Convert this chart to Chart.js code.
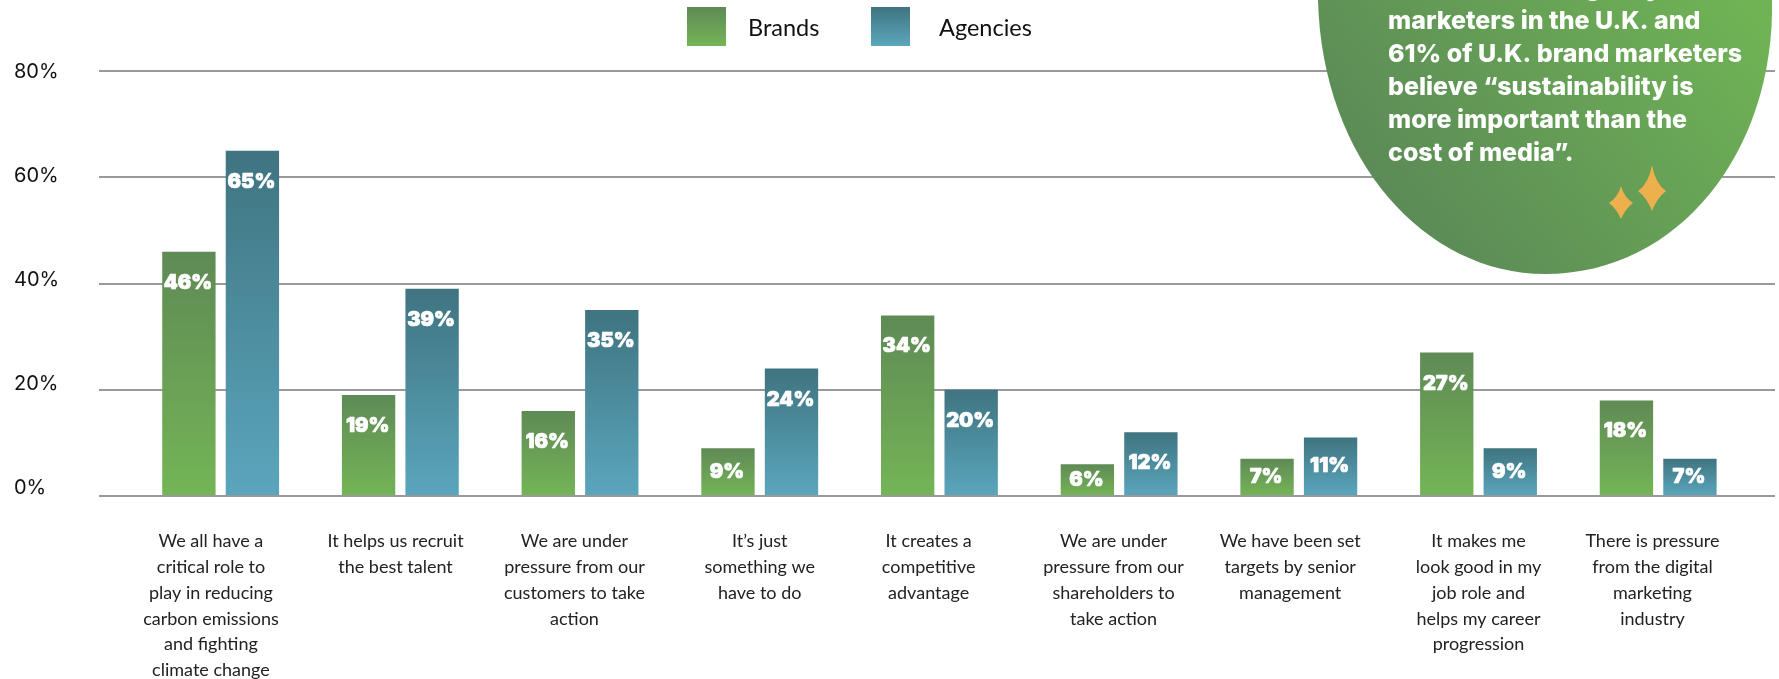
<!DOCTYPE html>
<html>
<head>
<meta charset="utf-8">
<script src="https://cdn.jsdelivr.net/npm/chart.js@4/dist/chart.umd.min.js"></script>
<style>html,body{margin:0;padding:0;background:#fff}canvas{display:block}</style>
</head>
<body>
<canvas id="chart" width="1779" height="679"></canvas>
<script>
const categories = [
  ["We all have a","critical role to","play in reducing","carbon emissions","and fighting","climate change"],
  ["It helps us recruit","the best talent"],
  ["We are under","pressure from our","customers to take","action"],
  ["It’s just","something we","have to do"],
  ["It creates a","competitive","advantage"],
  ["We are under","pressure from our","shareholders to","take action"],
  ["We have been set","targets by senior","management"],
  ["It makes me","look good in my","job role and","helps my career","progression"],
  ["There is pressure","from the digital","marketing","industry"]
];
const brands = [46, 19, 16, 9, 34, 6, 7, 27, 18];
const agencies = [65, 39, 35, 24, 20, 12, 11, 9, 7];
const seriesNames = ["Brands", "Agencies"];
const yTicks = [0, 20, 40, 60, 80];
const calloutLines = ["marketers in the U.K. and","61% of U.K. brand marketers","believe “sustainability is","more important than the","cost of media”."];
const calloutCutOff = "agency";

const GREEN = ["#5f8a55", "#74b556"];
const TEAL = ["#3f7480", "#5ba6bd"];

// Category captions sit slightly left of their bar pairs, in x-axis units.
const captionShift = [-0.054, -0.027, -0.031, 0, -0.06, -0.031, -0.048, 0, -0.032];
// The percent labels on the left drift upward from their rules toward the baseline, in y-axis units.
const yLabelShift = [1.56, 1.08, 0.66, 0.3, -0.13];

function barGradient(stops) {
  return function (c) {
    if (c.type !== "data" || !c.parsed) return stops[1];
    const { chart } = c;
    const y = chart.scales.y;
    const top = y.getPixelForValue(c.parsed.y);
    const bottom = y.getPixelForValue(0);
    if (!isFinite(top) || !isFinite(bottom)) return stops[1];
    const g = chart.ctx.createLinearGradient(0, top, 0, bottom);
    g.addColorStop(0, stops[0]);
    g.addColorStop(1, stops[1]);
    return g;
  };
}

// White percentage printed inside each bar, centred when the bar is short.
const valueLabels = {
  id: "valueLabels",
  afterDatasetsDraw(chart) {
    const ctx = chart.ctx;
    ctx.save();
    ctx.fillStyle = "#fff";
    ctx.strokeStyle = "#fff";
    ctx.lineWidth = 0.7;
    ctx.lineJoin = "round";
    ctx.textAlign = "center";
    ctx.textBaseline = "middle";
    ctx.font = "900 20px Inter, sans-serif";
    chart.data.datasets.forEach((ds, d) => {
      chart.getDatasetMeta(d).data.forEach((bar, i) => {
        const h = bar.base - bar.y;
        const text = ds.data[i].y + "%";
        const y = bar.y + Math.min(31, h / 2);
        ctx.fillText(text, bar.x - 1, y);
        ctx.strokeText(text, bar.x - 1, y);
      });
    });
    ctx.restore();
  }
};

// Series key across the top, swatch plus name.
const seriesKey = {
  id: "seriesKey",
  afterDraw(chart) {
    const ctx = chart.ctx;
    const slots = [[687, 748], [871, 939]];
    const stops = [GREEN, TEAL];
    ctx.save();
    ctx.font = "23.5px Lato, sans-serif";
    ctx.textBaseline = "middle";
    ctx.textAlign = "left";
    seriesNames.forEach((name, i) => {
      const g = ctx.createLinearGradient(0, 7, 0, 46);
      g.addColorStop(0, stops[i][0]);
      g.addColorStop(1, stops[i][1]);
      ctx.fillStyle = g;
      ctx.fillRect(slots[i][0], 7, 39, 39);
      ctx.fillStyle = "#111";
      ctx.fillText(name, slots[i][1], 28);
    });
    ctx.restore();
  }
};

function sparkle(ctx, cx, cy, w, up, down) {
  ctx.beginPath();
  ctx.moveTo(cx, cy - up);
  ctx.quadraticCurveTo(cx + w * 0.25, cy - w * 0.5, cx + w, cy);
  ctx.quadraticCurveTo(cx + w * 0.35, cy + w * 0.5, cx, cy + down);
  ctx.quadraticCurveTo(cx - w * 0.35, cy + w * 0.5, cx - w, cy);
  ctx.quadraticCurveTo(cx - w * 0.25, cy - w * 0.5, cx, cy - up);
  ctx.closePath();
  ctx.fill();
}

// Green rounded callout hanging from the top right corner.
const callout = {
  id: "callout",
  afterDraw(chart) {
    const ctx = chart.ctx;
    ctx.save();
    const g = ctx.createLinearGradient(1400, 270, 1740, 0);
    g.addColorStop(0, "#5a8757");
    g.addColorStop(1, "#6fb355");
    ctx.fillStyle = g;
    ctx.beginPath();
    ctx.moveTo(1318, 0);
    ctx.bezierCurveTo(1322, 160, 1425, 274, 1545, 274);
    ctx.bezierCurveTo(1680, 274, 1775, 150, 1772, 0);
    ctx.closePath();
    ctx.fill();
    ctx.fillStyle = "#fff";
    ctx.font = "800 25px Inter, sans-serif";
    ctx.textAlign = "left";
    ctx.textBaseline = "alphabetic";
    ctx.fillText(calloutCutOff, 1570, -4);
    calloutLines.forEach((line, i) => ctx.fillText(line, 1388, 29 + i * 33));
    ctx.fillStyle = "#edb04d";
    sparkle(ctx, 1652, 191, 14, 26, 20);
    sparkle(ctx, 1621, 203, 12, 17, 16);
    ctx.restore();
  }
};

new Chart(document.getElementById("chart"), {
  type: "bar",
  data: {
    datasets: [
      { label: seriesNames[0], yAxisID: "y", data: brands.map((v, i) => ({ x: i, y: v })), backgroundColor: barGradient(GREEN) },
      { label: seriesNames[1], yAxisID: "y", data: agencies.map((v, i) => ({ x: i, y: v })), backgroundColor: barGradient(TEAL) }
    ]
  },
  options: {
    responsive: false,
    animation: false,
    categoryPercentage: 0.752,
    barPercentage: 0.84,
    layout: { padding: { top: 71, right: 4, left: 14, bottom: 0 } },
    plugins: { legend: { display: false }, tooltip: { enabled: false }, title: { display: false } },
    scales: {
      x: {
        type: "linear",
        offset: false,
        min: -0.677,
        max: 8.65,
        grid: { display: false },
        border: { display: false },
        afterBuildTicks(scale) { scale.ticks = categories.map((_, i) => ({ value: i + captionShift[i] })); },
        afterFit(scale) { scale.height = 183; },
        ticks: {
          autoSkip: false,
          maxRotation: 0,
          padding: 24.5,
          color: "#222",
          font: { family: "Lato, sans-serif", size: 18, lineHeight: "25.8px" },
          callback: (v, i) => categories[i]
        }
      },
      y: {
        min: 0,
        max: 80,
        position: "left",
        grid: { color: "#999", lineWidth: 2, drawTicks: false },
        border: { display: false },
        afterBuildTicks(scale) { scale.ticks = yTicks.map(v => ({ value: v })); },
        afterFit(scale) { scale.width = 0; },
        ticks: { display: false }
      },
      yLabels: {
        axis: "y",
        min: 0,
        max: 80,
        position: "left",
        grid: { display: false, drawTicks: false },
        border: { display: false },
        afterBuildTicks(scale) { scale.ticks = yTicks.map((v, i) => ({ value: v + yLabelShift[i] })); },
        afterFit(scale) { scale.width = 85; },
        ticks: {
          crossAlign: "far",
          padding: 0,
          color: "#111",
          font: { family: "Inter, sans-serif", size: 20 },
          callback: (v, i) => yTicks[i] + "%"
        }
      }
    }
  },
  plugins: [valueLabels, callout, seriesKey]
});
</script>
</body>
</html>
